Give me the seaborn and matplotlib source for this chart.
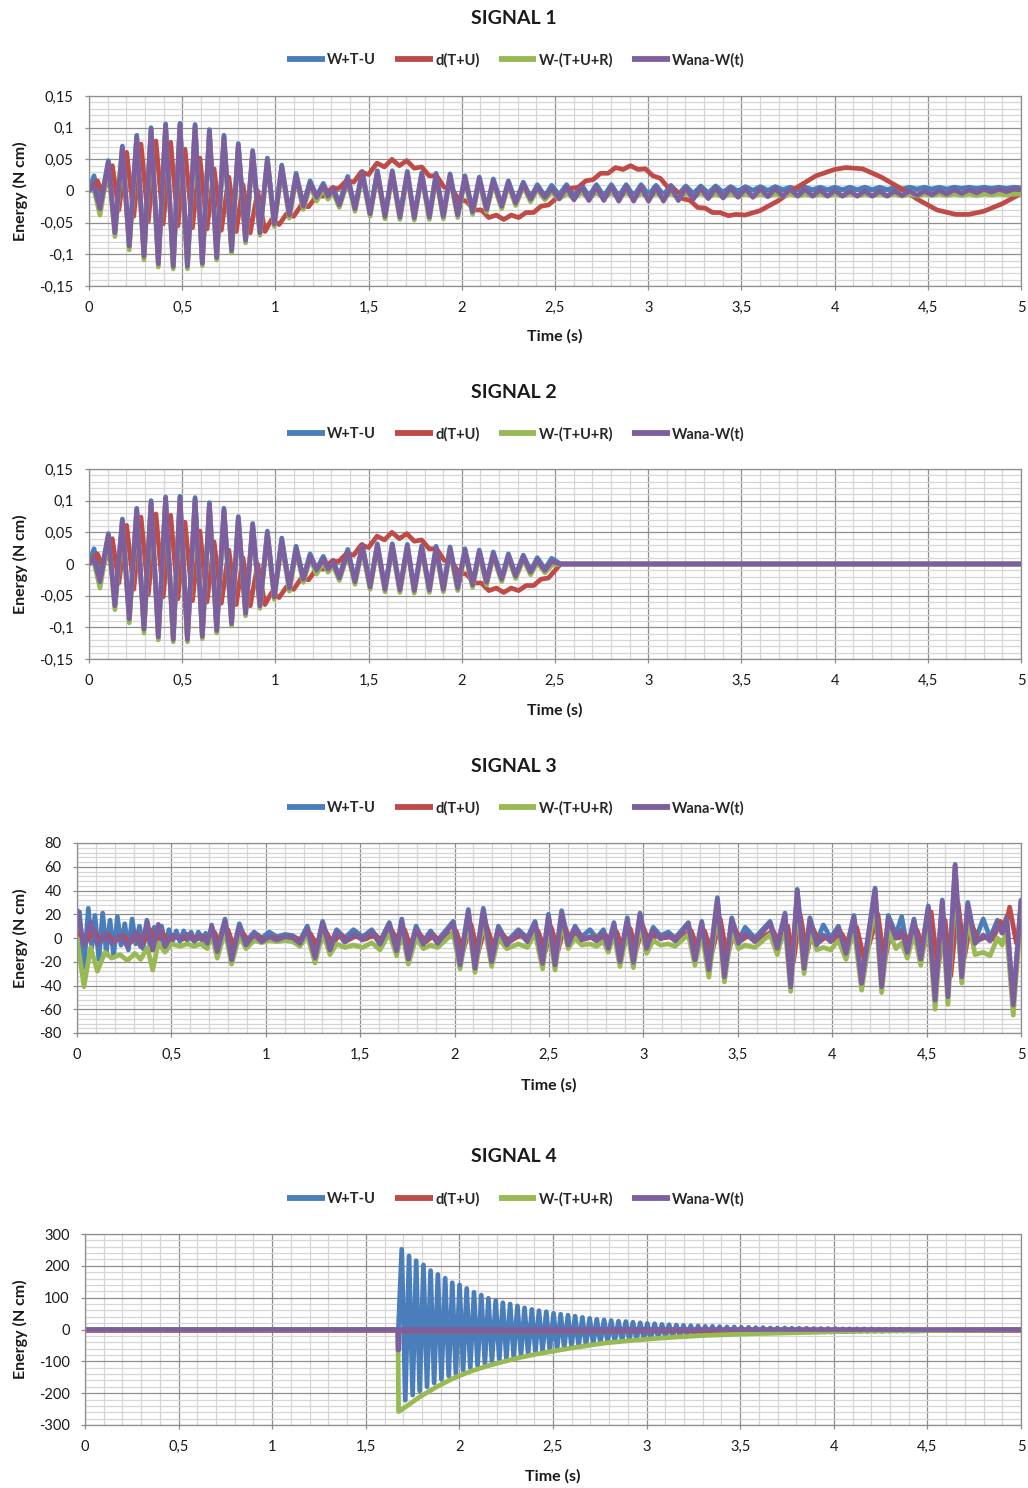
import matplotlib
matplotlib.use("Agg")
import matplotlib.pyplot as plt
from matplotlib.lines import Line2D
from matplotlib.ticker import FixedLocator, MultipleLocator
import pandas as pd
import seaborn as sns

W, H = 1028, 1488
SERIES = ["W+T-U", "d(T+U)", "W-(T+U+R)", "Wana-W(t)"]
PALETTE = {"W+T-U": "#4A7EBB", "d(T+U)": "#BE4B48",
           "W-(T+U+R)": "#98B954", "Wana-W(t)": "#7D5FA0"}

XTICKS = [0, 0.5, 1, 1.5, 2, 2.5, 3, 3.5, 4, 4.5, 5]
XTICK_LABELS = ["0", "0,5", "1", "1,5", "2", "2,5", "3", "3,5", "4", "4,5", "5"]
S1_YTICKS = [-0.15, -0.1, -0.05, 0, 0.05, 0.1, 0.15]
S1_YLABELS = ["-0,15", "-0,1", "-0,05", "0", "0,05", "0,1", "0,15"]
S3_YTICKS = [-80, -60, -40, -20, 0, 20, 40, 60, 80]
S3_YLABELS = ["-80", "-60", "-40", "-20", "0", "20", "40", "60", "80"]
S4_YTICKS = [-300, -200, -100, 0, 100, 200, 300]
S4_YLABELS = ["-300", "-200", "-100", "0", "100", "200", "300"]
TITLES = ["SIGNAL 1", "SIGNAL 2", "SIGNAL 3", "SIGNAL 4"]

# ---------------- SIGNAL 1 (extrema) ----------------
S1_T = [
    0.000, 0.027, 0.059, 0.104, 0.139, 0.179, 0.216, 0.256, 0.295, 0.333,
    0.372, 0.411, 0.452, 0.488, 0.528, 0.569, 0.608, 0.646, 0.685, 0.724,
    0.765, 0.801, 0.840, 0.878, 0.917, 0.957, 0.994, 1.034, 1.075, 1.111,
    1.150, 1.186, 1.221, 1.257, 1.282, 1.310, 1.343, 1.388, 1.427, 1.466,
    1.508, 1.547, 1.588, 1.627, 1.668, 1.708, 1.745, 1.785, 1.826, 1.862,
    1.901, 1.937, 1.978, 2.017, 2.058, 2.094, 2.133, 2.169, 2.214, 2.250,
    2.289, 2.330, 2.369, 2.405, 2.446, 2.482, 2.522, 2.562, 2.602, 2.642,
    2.682, 2.722, 2.762, 2.802, 2.842, 2.882, 2.922, 2.962, 3.002, 3.042,
    3.082, 3.122, 3.162, 3.202, 3.242, 3.282, 3.322, 3.362, 3.402, 3.442,
    3.482, 3.522, 3.562, 3.602, 3.642, 3.682, 3.722, 3.762, 3.802, 3.842,
    3.882, 3.922, 3.962, 4.002, 4.042, 4.082, 4.122, 4.162, 4.202, 4.242,
    4.282, 4.322, 4.362, 4.402, 4.442, 4.482, 4.522, 4.562, 4.602, 4.642,
    4.682, 4.722, 4.762, 4.802, 4.842, 4.882, 4.922, 4.962, 5.000]
S1_PURPLE = [
    0.000, 0.008, -0.028, 0.045, -0.066, 0.068, -0.087, 0.085, -0.103, 0.097,
    -0.115, 0.103, -0.119, 0.104, -0.119, 0.102, -0.114, 0.094, -0.105, 0.085,
    -0.094, 0.072, -0.078, 0.061, -0.066, 0.049, -0.052, 0.037, -0.038, 0.024,
    -0.024, 0.012, -0.010, 0.008, -0.008, 0.002, -0.022, 0.019, -0.028, 0.028,
    -0.036, 0.029, -0.040, 0.029, -0.041, 0.028, -0.042, 0.026, -0.041, 0.025,
    -0.040, 0.024, -0.038, 0.021, -0.033, 0.019, -0.029, 0.016, -0.024, 0.013,
    -0.019, 0.011, -0.013, 0.006, -0.010, 0.004, -0.012, 0.006, -0.014, 0.007,
    -0.015, 0.007, -0.015, 0.007, -0.016, 0.007, -0.016, 0.007, -0.016, 0.006,
    -0.016, 0.006, -0.015, 0.005, -0.013, 0.005, -0.012, 0.005, -0.011, 0.005,
    -0.010, 0.004, -0.010, 0.004, -0.009, 0.004, -0.008, 0.003, -0.008, 0.003,
    -0.008, 0.002, -0.008, 0.001, -0.008, 0.000, -0.008, 0.000, -0.008, 0.000,
    -0.008, 0.000, -0.007, 0.000, -0.007, 0.000, -0.006, 0.001, -0.005, 0.002,
    -0.004, 0.002, -0.003, 0.003, -0.002, 0.003, -0.001, 0.003, 0.002]
S1_BLUE = [
    0.000, 0.024, -0.024, 0.048, -0.064, 0.071, -0.085, 0.088, -0.101, 0.100,
    -0.113, 0.106, -0.117, 0.107, -0.117, 0.105, -0.112, 0.097, -0.103, 0.088,
    -0.092, 0.075, -0.076, 0.064, -0.064, 0.052, -0.050, 0.041, -0.036, 0.028,
    -0.022, 0.016, -0.008, 0.012, -0.005, 0.006, -0.020, 0.023, -0.026, 0.031,
    -0.034, 0.032, -0.038, 0.032, -0.039, 0.031, -0.040, 0.029, -0.039, 0.028,
    -0.038, 0.027, -0.036, 0.024, -0.031, 0.022, -0.027, 0.019, -0.022, 0.016,
    -0.017, 0.014, -0.011, 0.010, -0.008, 0.009, -0.006, 0.010, -0.008, 0.010,
    -0.008, 0.010, -0.008, 0.010, -0.008, 0.010, -0.008, 0.010, -0.006, 0.009,
    -0.006, 0.009, -0.005, 0.008, -0.004, 0.008, -0.003, 0.008, -0.002, 0.007,
    0.000, 0.007, 0.001, 0.007, 0.001, 0.007, 0.002, 0.006, 0.002, 0.006,
    0.002, 0.006, 0.002, 0.006, 0.002, 0.006, 0.002, 0.006, 0.002, 0.006,
    0.002, 0.006, 0.003, 0.006, 0.003, 0.006, 0.003, 0.006, 0.003, 0.006,
    0.004, 0.006, 0.004, 0.006, 0.004, 0.006, 0.004, 0.006, 0.005]
S1_GREEN = [
    0.000, 0.002, -0.038, 0.040, -0.072, 0.064, -0.093, 0.081, -0.109, 0.093,
    -0.120, 0.099, -0.123, 0.100, -0.123, 0.098, -0.118, 0.090, -0.109, 0.081,
    -0.098, 0.068, -0.082, 0.057, -0.070, 0.045, -0.056, 0.033, -0.043, 0.020,
    -0.029, 0.008, -0.016, 0.003, -0.013, -0.003, -0.026, 0.015, -0.032, 0.024,
    -0.040, 0.025, -0.044, 0.025, -0.045, 0.024, -0.046, 0.022, -0.045, 0.021,
    -0.044, 0.020, -0.042, 0.017, -0.037, 0.015, -0.033, 0.012, -0.028, 0.009,
    -0.023, 0.007, -0.017, 0.002, -0.014, -0.002, -0.013, -0.003, -0.012, -0.003,
    -0.011, -0.003, -0.011, -0.003, -0.011, -0.003, -0.011, -0.004, -0.010, -0.004,
    -0.010, -0.004, -0.010, -0.004, -0.009, -0.004, -0.009, -0.005, -0.009, -0.005,
    -0.008, -0.005, -0.008, -0.005, -0.008, -0.005, -0.008, -0.005, -0.008, -0.005,
    -0.008, -0.005, -0.008, -0.005, -0.008, -0.005, -0.008, -0.005, -0.008, -0.005,
    -0.008, -0.005, -0.008, -0.005, -0.008, -0.005, -0.007, -0.005, -0.007, -0.005,
    -0.007, -0.005, -0.007, -0.005, -0.006, -0.005, -0.006, -0.005, -0.005]
S1_RED_T = [
    0.000, 0.045, 0.075, 0.125, 0.160, 0.202, 0.240, 0.279, 0.318, 0.359,
    0.398, 0.438, 0.477, 0.515, 0.555, 0.595, 0.633, 0.671, 0.710, 0.750,
    0.790, 0.826, 0.865, 0.905, 0.944, 0.980, 1.020, 1.060, 1.098, 1.140,
    1.178, 1.220, 1.260, 1.300, 1.340, 1.380, 1.420, 1.460, 1.500, 1.545,
    1.585, 1.625, 1.665, 1.705, 1.745, 1.785, 1.825, 1.865, 1.905, 1.945,
    1.985, 2.025, 2.065, 2.105, 2.145, 2.185, 2.225, 2.265, 2.305, 2.345,
    2.385, 2.425, 2.465, 2.505, 2.545, 2.585, 2.625, 2.665, 2.705, 2.745,
    2.785, 2.825, 2.865, 2.905, 2.945, 2.985, 3.025, 3.065, 3.105, 3.145,
    3.185, 3.225, 3.265, 3.305, 3.345, 3.385, 3.430, 3.470, 3.520, 3.600,
    3.700, 3.800, 3.900, 4.000, 4.060, 4.150, 4.250, 4.350, 4.450, 4.550,
    4.650, 4.720, 4.800, 4.900, 5.000]
S1_RED = [
    0.000, 0.016, -0.005, 0.040, -0.030, 0.061, -0.040, 0.074, -0.048, 0.079,
    -0.052, 0.077, -0.055, 0.066, -0.058, 0.052, -0.060, 0.035, -0.062, 0.022,
    -0.064, 0.010, -0.066, 0.000, -0.064, -0.045, -0.053, -0.036, -0.040, -0.022,
    -0.025, -0.008, -0.008, 0.004, 0.004, 0.016, 0.014, 0.030, 0.026, 0.044,
    0.038, 0.050, 0.040, 0.048, 0.036, 0.038, 0.024, 0.024, 0.006, 0.004,
    -0.014, -0.016, -0.030, -0.030, -0.042, -0.038, -0.045, -0.038, -0.042, -0.034,
    -0.034, -0.024, -0.022, -0.012, -0.008, 0.004, 0.006, 0.016, 0.018, 0.028,
    0.028, 0.037, 0.034, 0.040, 0.034, 0.035, 0.024, 0.020, 0.006, 0.002,
    -0.012, -0.015, -0.026, -0.027, -0.034, -0.034, -0.039, -0.037, -0.038, -0.031,
    -0.015, 0.006, 0.024, 0.034, 0.037, 0.035, 0.022, 0.005, -0.014, -0.030,
    -0.037, -0.037, -0.032, -0.020, -0.004]

# ---------------- SIGNAL 2: same as signal 1 until ~2.5 s, then flat at 0 ----------------
S2_T = S1_T[:66] + [2.530, 5.000]
S2_PURPLE = S1_PURPLE[:66] + [0.0, 0.0]
S2_BLUE = S1_BLUE[:66] + [0.0, 0.0]
S2_GREEN = S1_GREEN[:66] + [0.0, 0.0]
S2_RED_T = S1_RED_T[:63] + [2.530, 5.000]
S2_RED = S1_RED[:63] + [0.0, 0.0]

# ---------------- SIGNAL 3 ----------------
S3_T = [
    0.000, 0.037, 0.072, 0.108, 0.148, 0.184, 0.228, 0.267, 0.307, 0.337,
    0.373, 0.401, 0.431, 0.466, 0.501, 0.546, 0.584, 0.620, 0.655, 0.690,
    0.713, 0.743, 0.784, 0.819, 0.860, 0.895, 0.938, 0.978, 1.019, 1.058,
    1.102, 1.142, 1.181, 1.220, 1.261, 1.301, 1.340, 1.375, 1.419, 1.464,
    1.513, 1.561, 1.605, 1.654, 1.693, 1.720, 1.755, 1.796, 1.834, 1.873,
    1.910, 1.993, 2.029, 2.073, 2.108, 2.152, 2.196, 2.232, 2.276, 2.338,
    2.385, 2.426, 2.466, 2.497, 2.532, 2.567, 2.602, 2.638, 2.673, 2.717,
    2.752, 2.788, 2.814, 2.844, 2.876, 2.915, 2.947, 2.982, 3.017, 3.052,
    3.091, 3.132, 3.168, 3.238, 3.273, 3.309, 3.347, 3.392, 3.429, 3.468,
    3.504, 3.539, 3.590, 3.671, 3.709, 3.750, 3.780, 3.815, 3.851, 3.882,
    3.918, 3.953, 3.992, 4.033, 4.073, 4.115, 4.156, 4.227, 4.262, 4.297,
    4.338, 4.368, 4.398, 4.433, 4.469, 4.509, 4.545, 4.583, 4.613, 4.651,
    4.686, 4.718, 4.757, 4.800, 4.836, 4.875, 4.900, 4.924, 4.959, 5.000]
S3_PURPLE = [
    23.6, -5.9, 13.2, -5.9, 3.9, -4.5, 2.5, -7.3, 5.3, -7.3,
    13.2, -10.1, 11.5, -7.3, 2.5, -0.8, 3.1, -2.5, 2.5, -4.5,
    9.5, -11.5, 13.8, -18.5, 9.5, -5.9, 3.1, -3.1, 1.1, -1.7,
    1.1, 0.3, -4.5, 7.6, -16.6, 12.4, -10.1, 5.3, -3.6, 3.1,
    -1.7, 5.3, -5.3, 11.5, -10.9, 13.8, -17.7, 7.6, -5.3, 3.9,
    -4.5, 12.4, -22.7, 21.6, -25.5, 22.7, -19.9, 8.1, -5.9, 5.3,
    -3.1, 12.4, -21.3, 18.0, -22.7, 20.8, -5.9, 8.1, -1.7, 1.1,
    -2.5, 4.8, -8.7, 10.9, -19.9, 15.2, -20.5, 19.4, -8.7, 6.7,
    -0.8, 2.5, -2.5, 11.5, -18.5, 12.4, -26.9, 32.0, -32.6, 15.2,
    -4.5, 3.9, -3.0, 12.4, -8.7, 19.4, -41.0, 39.6, -25.5, 15.2,
    -5.9, 2.5, -3.1, 8.1, -12.9, 17.1, -38.2, 40.4, -41.0, 16.6,
    -0.3, 6.7, -12.1, 14.3, -17.7, 25.0, -52.2, 30.6, -49.4, 60.9,
    -32.6, 27.8, -4.5, 2.5, -2.5, 12.4, 4.0, 16.6, -56.4, 30.6]
S3_GREEN = [
    0.0, -41, -8, -28, -12, -17, -14, -19, -13, -18,
    -8, -27, -4, -12, -5, -7, -5, -7, -5, -9,
    3, -17, 6, -22, 2, -9, -2, -4, -2, -3,
    -2, -3, -7, 2, -21, 5, -14, -5, -8, -6,
    -8, -4, -10, 4, -15, 6, -22, 0, -9, -6,
    -8, 4, -26, 14, -29, 15, -24, 0, -9, -5,
    -8, 4, -26, 10, -27, 13, -9, 0, -6, -5,
    -7, -3, -12, 3, -24, 7, -25, 11, -13, -2,
    -6, -5, -7, 3, -23, 4, -33, 24, -37, 6,
    -9, -6, -8, 3, -14, 10, -45, 30, -30, 5,
    -10, -8, -10, -2, -18, 8, -44, 30, -46, 6,
    -9, -4, -17, 4, -23, 15, -60, 20, -56, 50,
    -38, 17, -14, -12, -15, 0, -6, 5, -65, 22]
S3_BLUE_EARLY_T = [
    0.000, 0.013, 0.037, 0.060, 0.078, 0.095, 0.116, 0.136, 0.155, 0.175,
    0.194, 0.214, 0.233, 0.253, 0.272, 0.292, 0.311, 0.331, 0.350, 0.370,
    0.389, 0.409, 0.428, 0.448, 0.467, 0.487, 0.506, 0.526, 0.545, 0.565,
    0.584, 0.604, 0.623, 0.643, 0.662, 0.682, 0.700]
S3_BLUE_EARLY = [
    20, 22, -25, 25, -8, 19, -18, 21, -12, 15,
    -15, 18, -6, 12, -10, 16, -5, 10, -9, 15,
    -10, 9, -5, 10, -6, 7, -3, 6, -3, 6,
    -2, 5, -3, 5, -2, 4, -4]
S3_BLUE_LATE = [
    11, -9, 16, -16, 12, -3, 5, 0, 5, 1,
    3, 2, -2, 10, -14, 14, -7, 7, 0, 7,
    1, 7, -3, 13, -8, 16, -15, 10, -3, 6,
    -2, 14, -20, 24, -23, 25, -17, 10, -3, 7,
    0, 14, -19, 20, -20, 23, -3, 10, 1, 7,
    0, 7, -6, 13, -17, 17, -18, 21, -6, 9,
    2, 5, 0, 13, -16, 14, -24, 34, -30, 17,
    -2, 9, 0, 14, -6, 21, -38, 41, -23, 17,
    -3, 11, 0, 10, -10, 19, -35, 42, -38, 19,
    3, 18, -9, 16, -15, 27, -49, 32, -46, 62,
    -30, 30, -2, 16, 0, 15, 6, 18, -53, 32]
S3_RED_T = [
    0.000, 0.050, 0.087, 0.123, 0.163, 0.199, 0.243, 0.282, 0.322, 0.352,
    0.388, 0.416, 0.446, 0.481, 0.516, 0.561, 0.599, 0.635, 0.670, 0.705,
    0.728, 0.758, 0.799, 0.834, 0.875, 0.910, 0.953, 0.993, 1.034, 1.073,
    1.117, 1.157, 1.196, 1.235, 1.276, 1.316, 1.355, 1.390, 1.434, 1.479,
    1.528, 1.576, 1.620, 1.669, 1.708, 1.735, 1.770, 1.811, 1.849, 1.888,
    1.925, 2.008, 2.044, 2.088, 2.123, 2.167, 2.211, 2.247, 2.291, 2.353,
    2.400, 2.441, 2.481, 2.512, 2.547, 2.582, 2.617, 2.653, 2.688, 2.732,
    2.767, 2.803, 2.829, 2.859, 2.891, 2.930, 2.962, 2.997, 3.032, 3.067,
    3.106, 3.147, 3.183, 3.253, 3.288, 3.324, 3.362, 3.407, 3.444, 3.483,
    3.519, 3.554, 3.605, 3.686, 3.724, 3.765, 3.795, 3.830, 3.866, 3.897,
    3.933, 3.968, 4.007, 4.048, 4.088, 4.130, 4.171, 4.242, 4.277, 4.312,
    4.353, 4.383, 4.413, 4.448, 4.484, 4.524, 4.560, 4.598, 4.628, 4.666,
    4.701, 4.733, 4.772, 4.815, 4.851, 4.890, 4.915, 4.940, 4.975, 5.000]
S3_RED = [
    5, -3, 7, -3, 3, -3, 2, -4, 3, -4,
    7, -5, 6, -4, 2, -1, 2, -1, 1, -2,
    5, -6, 7, -9, 5, -3, 2, -2, 1, -1,
    1, 0, -2, 4, -8, 6, -5, 3, -2, 2,
    -1, 3, -3, 6, -5, 7, -9, 4, -3, 2,
    -2, 6, -11, 11, -13, 11, -10, 4, -3, 3,
    -2, 6, -11, 9, -11, 10, -3, 4, -1, 1,
    -1, 2, -4, 5, -10, 8, -10, 10, -4, 3,
    0, 1, -1, 6, -9, 6, -13, 16, -16, 8,
    -2, 2, -2, 6, -4, 10, -20, 20, -13, 8,
    -3, 1, -2, 4, -6, 9, -19, 20, -20, 8,
    0, 3, -6, 7, -9, 22, -26, 15, -32, 30,
    -16, 14, -2, 1, -1, 14, 8, 26, -4, 11]

# ---------------- SIGNAL 4 ----------------
S4_PEAK_T = [
    1.692, 1.731, 1.769, 1.808, 1.846, 1.885, 1.924, 1.962, 2.001, 2.039,
    2.078, 2.117, 2.155, 2.194, 2.232, 2.271, 2.310, 2.348, 2.387, 2.425,
    2.464, 2.503, 2.541, 2.580, 2.618, 2.657, 2.696, 2.734, 2.773, 2.811,
    2.850, 2.889, 2.927, 2.966, 3.004, 3.043, 3.082, 3.120, 3.159, 3.197,
    3.236, 3.275, 3.313, 3.352, 3.390, 3.429, 3.468, 3.506, 3.545, 3.583,
    3.622, 3.661, 3.699, 3.738, 3.776, 3.815, 3.854, 3.892, 3.931, 3.969,
    4.008, 4.047, 4.085, 4.124, 4.162, 4.201, 4.240, 4.278, 4.317, 4.355,
    4.394]
S4_PEAK = [
    252, 231, 216, 203, 185, 173, 161, 147, 140, 129,
    117, 108, 98, 91, 84, 80, 74, 68, 63, 59,
    56, 51, 48, 45, 42, 38, 35, 32, 30, 28,
    26, 25, 23, 21, 19, 18, 16, 15, 14, 13,
    12, 11, 10, 10, 9, 8, 8, 7, 7, 6,
    6, 5, 5, 5, 4, 4, 4, 3, 3, 3,
    3, 2, 2, 2, 2, 2, 1, 1, 1, 1,
    1]
S4_TROUGH_T = [
    1.711, 1.750, 1.788, 1.827, 1.865, 1.904, 1.943, 1.981, 2.020, 2.058,
    2.097, 2.136, 2.174, 2.213, 2.251, 2.290, 2.329, 2.367, 2.406, 2.444,
    2.483, 2.522, 2.560, 2.599, 2.637, 2.676, 2.715, 2.753, 2.792, 2.830,
    2.869, 2.908, 2.946, 2.985, 3.023, 3.062, 3.101, 3.139, 3.178, 3.216,
    3.255, 3.294, 3.332, 3.371, 3.409, 3.448, 3.487, 3.525, 3.564, 3.602,
    3.641, 3.680, 3.718, 3.757, 3.795, 3.834, 3.873, 3.911, 3.950, 3.988,
    4.027, 4.066, 4.104, 4.143, 4.181, 4.220, 4.259, 4.297, 4.336, 4.374,
    4.413]
S4_TROUGH = [
    -222, -206, -193, -180, -168, -157, -146, -137, -128, -120,
    -113, -106, -100, -95, -90, -85, -80, -76, -71, -67,
    -64, -60, -56, -53, -50, -47, -44, -41, -38, -36,
    -34, -32, -30, -28, -27, -25, -24, -22, -21, -20,
    -19, -18, -17, -16, -15, -14, -13, -13, -12, -11,
    -11, -10, -10, -10, -9, -9, -9, -8, -8, -8,
    -7, -7, -7, -6, -6, -6, -6, -5, -5, -5,
    -5]
S4_BLUE_EDGE_T = [0.0, 1.674, 4.600, 5.000]
S4_BLUE_EDGE = [0.0, 0.0, -2.0, -1.0]
S4_GREEN_T = [0.0, 1.672, 1.675, 1.701, 1.790, 1.879, 1.968, 2.057, 2.146, 2.235,
              2.324, 2.413, 2.500, 2.590, 2.680, 2.769, 2.858, 2.947, 3.036, 3.125,
              3.214, 3.303, 3.390, 3.481, 3.570, 3.659, 3.800, 4.000, 4.200, 4.500,
              4.800, 5.000]
S4_GREEN = [0, 0, -258, -248, -211, -180, -153, -132, -115, -101,
            -88, -77, -68, -59, -51, -43, -38, -33, -29, -25,
            -22, -19, -17, -15, -13, -12, -10, -7, -5, -3,
            -2, -1]
S4_PURPLE_T = [0.0, 1.670, 1.672, 1.676, 1.678, 5.0]
S4_PURPLE = [0, 0, -64, -64, 0, 0]
S4_RED_T = [0.0, 5.0]
S4_RED = [0, 0]


def long_df(series):
    frames = []
    for name in SERIES:
        t, v = series[name]
        frames.append(pd.DataFrame({"t": list(t), "v": list(v), "series": name}))
    return pd.concat(frames, ignore_index=True)


s4_blue_pts = sorted(list(zip(S4_BLUE_EDGE_T, S4_BLUE_EDGE)) +
                     list(zip(S4_PEAK_T, S4_PEAK)) +
                     list(zip(S4_TROUGH_T, S4_TROUGH)))

DATA = [
    {"W+T-U": (S1_T, S1_BLUE), "d(T+U)": (S1_RED_T, S1_RED),
     "W-(T+U+R)": (S1_T, S1_GREEN), "Wana-W(t)": (S1_T, S1_PURPLE)},
    {"W+T-U": (S2_T, S2_BLUE), "d(T+U)": (S2_RED_T, S2_RED),
     "W-(T+U+R)": (S2_T, S2_GREEN), "Wana-W(t)": (S2_T, S2_PURPLE)},
    {"W+T-U": (S3_BLUE_EARLY_T + S3_T[20:], S3_BLUE_EARLY + S3_BLUE_LATE),
     "d(T+U)": (S3_RED_T, S3_RED),
     "W-(T+U+R)": (S3_T, S3_GREEN), "Wana-W(t)": (S3_T, S3_PURPLE)},
    {"W+T-U": ([p[0] for p in s4_blue_pts], [p[1] for p in s4_blue_pts]),
     "d(T+U)": (S4_RED_T, S4_RED),
     "W-(T+U+R)": (S4_GREEN_T, S4_GREEN), "Wana-W(t)": (S4_PURPLE_T, S4_PURPLE)},
]

# layout in pixels: (left, top, right, bottom), title y, legend y, xlabel y
LAYOUT = [
    ((89, 96, 1021, 286), 18, 60, 336),
    ((89, 469, 1021, 659), 392, 434, 710),
    ((77, 843, 1021, 1033), 766, 808, 1085),
    ((85, 1234, 1021, 1425), 1157, 1199, 1476),
]
YAXES = [
    ((-0.15, 0.15), S1_YTICKS, S1_YLABELS, 0.01),
    ((-0.15, 0.15), S1_YTICKS, S1_YLABELS, 0.01),
    ((-80, 80), S3_YTICKS, S3_YLABELS, 4),
    ((-300, 300), S4_YTICKS, S4_YLABELS, 20),
]

sns.set_theme(style="white")
plt.rcParams["font.family"] = ["Lato", "DejaVu Sans"]

fig = plt.figure(figsize=(W / 100, H / 100), dpi=100)
fig.patch.set_facecolor("white")

MAJOR_C = "#8E8E8E"
MINOR_C = "#D6D6D6"
TXT_C = "#1A1A1A"

for i in range(4):
    (x0, y0, x1, y1), ty, ly, xly = LAYOUT[i]
    ylim, yticks, ylabels, yminor = YAXES[i]
    ax = fig.add_axes([x0 / W, 1 - y1 / H, (x1 - x0) / W, (y1 - y0) / H])
    df = long_df(DATA[i])
    sns.lineplot(data=df, x="t", y="v", hue="series", hue_order=SERIES,
                 palette=PALETTE, estimator=None, sort=False, linewidth=3.4,
                 legend=False, ax=ax)
    ax.set_xlim(0, 5)
    ax.set_ylim(*ylim)
    ax.xaxis.set_major_locator(FixedLocator(XTICKS))
    ax.xaxis.set_minor_locator(MultipleLocator(0.1))
    ax.yaxis.set_major_locator(FixedLocator(yticks))
    ax.yaxis.set_minor_locator(MultipleLocator(yminor))
    ax.set_xticklabels(XTICK_LABELS)
    ax.set_yticklabels(ylabels)
    ax.grid(True, which="minor", color=MINOR_C, linewidth=0.9)
    ax.grid(True, which="major", color=MAJOR_C, linewidth=0.9)
    ax.set_axisbelow(True)
    ax.tick_params(which="minor", length=0)
    ax.tick_params(which="major", direction="out", length=3, width=0.9,
                   color=MAJOR_C, labelsize=10.5, labelcolor=TXT_C,
                   bottom=True, left=True, pad=8)
    for sp in ax.spines.values():
        sp.set_color(MAJOR_C)
        sp.set_linewidth(0.9)
    ax.set_xlabel("")
    ax.set_ylabel("")

    fig.text(0.5, 1 - ty / H, TITLES[i], ha="center", va="center",
             fontsize=14, fontweight="bold", color=TXT_C)
    handles = [Line2D([], [], color=PALETTE[s], lw=4.2, solid_capstyle="butt")
               for s in SERIES]
    fig.legend(handles, SERIES, loc="center", bbox_to_anchor=(516 / W, 1 - ly / H),
               ncol=4, frameon=False, handlelength=2.6, handletextpad=0.15,
               columnspacing=1.3, prop={"weight": "bold", "size": 10.5})
    fig.text(((x0 + x1) / 2) / W, 1 - xly / H, "Time (s)", ha="center",
             va="center", fontsize=11.5, fontweight="bold", color=TXT_C)
    fig.text(20 / W, 1 - ((y0 + y1) / 2) / H, "Energy (N cm)", rotation=90,
             ha="center", va="center", fontsize=11.5, fontweight="bold", color=TXT_C)

fig.savefig("out.png", dpi=100, facecolor="white")
